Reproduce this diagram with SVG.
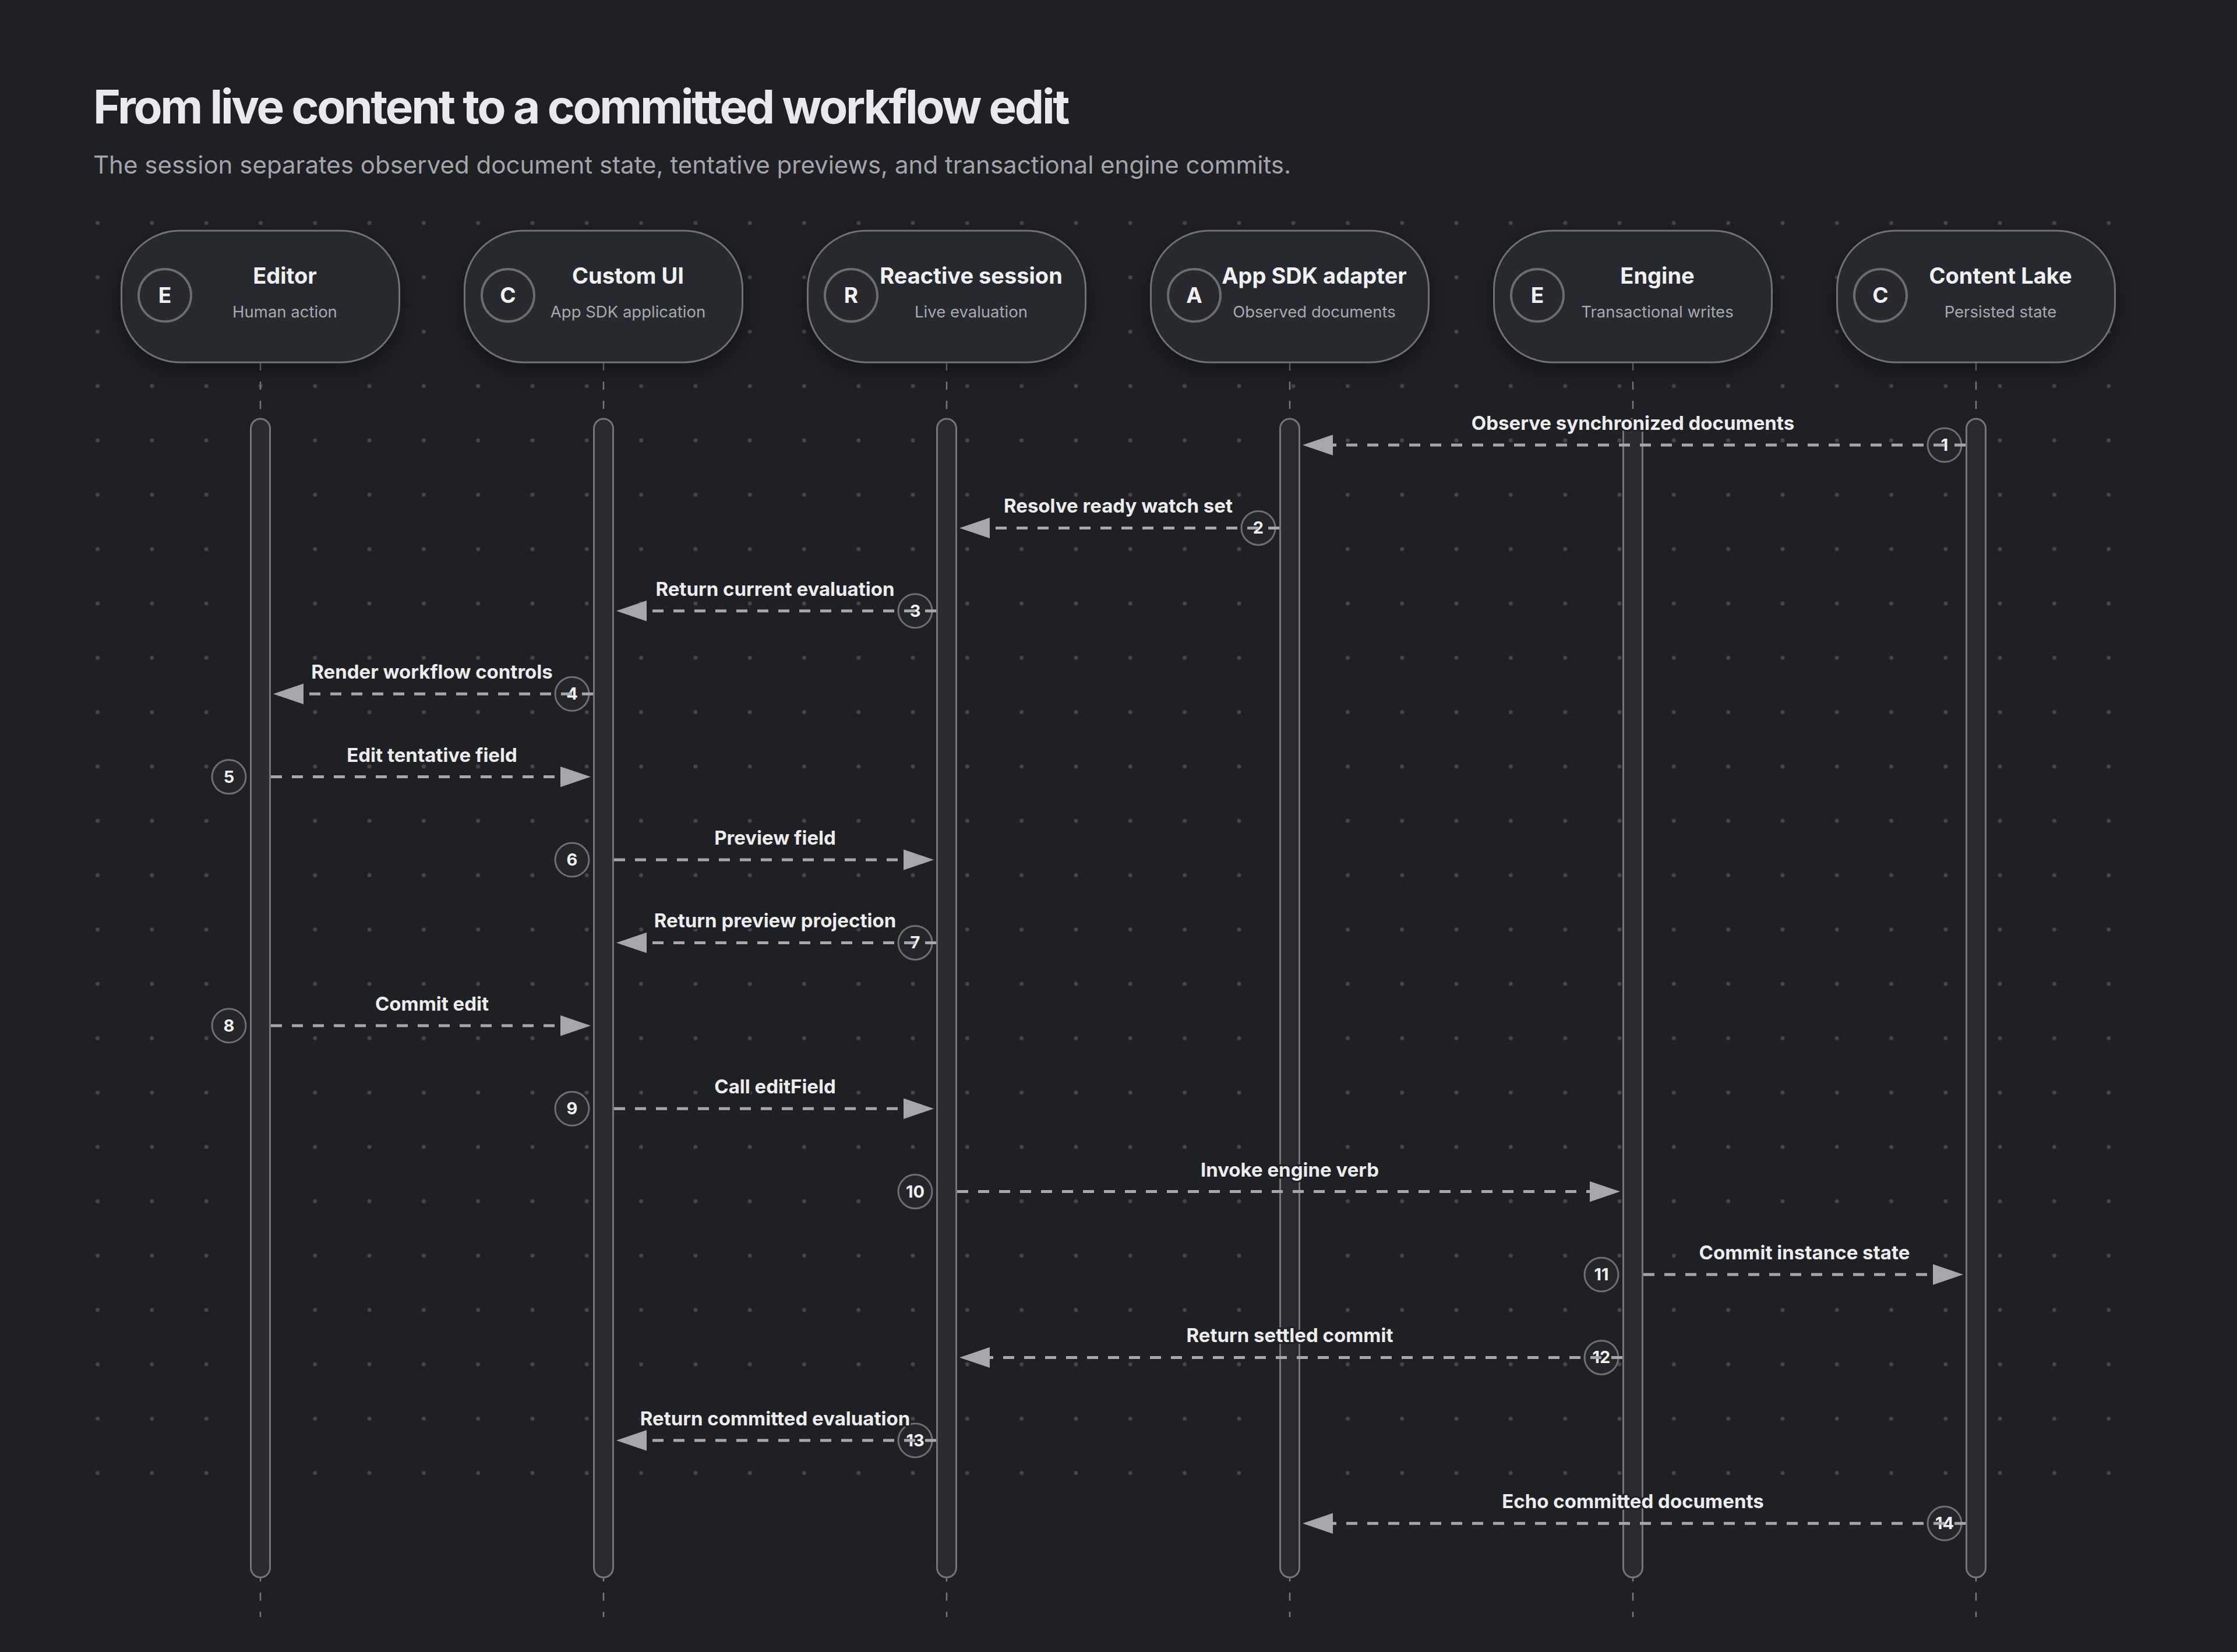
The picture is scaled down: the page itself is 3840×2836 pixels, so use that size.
<svg xmlns="http://www.w3.org/2000/svg" width="3840" height="2836" viewBox="0 0 3840 2836">
  <style>
    .bg { fill: #1f2024; }
    .title { font-family: Inter, "Noto Sans", "Liberation Sans", sans-serif; font-weight: 700; font-size: 80px; fill: #e9e9ec; letter-spacing: -3.3px; }
    .subtitle { font-family: Inter, "Noto Sans", "Liberation Sans", sans-serif; font-weight: 400; font-size: 42px; fill: #a4a5ab; }
    .pill { fill: #28292e; stroke: #6f7076; stroke-width: 3; }
    .icon { fill: #28292e; stroke: #6b6c72; stroke-width: 4; }
    .iconLetter { font-family: Inter, "Noto Sans", "Liberation Sans", sans-serif; font-weight: 700; font-size: 37px; fill: #f0f0f2; text-anchor: middle; }
    .nodeTitle { font-family: Inter, "Noto Sans", "Liberation Sans", sans-serif; font-weight: 700; font-size: 38px; fill: #f0f0f2; text-anchor: middle; }
    .nodeSub { font-family: Inter, "Noto Sans", "Liberation Sans", sans-serif; font-weight: 400; font-size: 27.5px; fill: #a8a9ae; text-anchor: middle; }
    .lifeline { stroke: #77787e; stroke-width: 2.5; stroke-dasharray: 14 19; fill: none; }
    .bar { fill: #2a2b30; stroke: #74757b; stroke-width: 3; }
    .msg { stroke: #a6a7ac; stroke-width: 5; stroke-dasharray: 19 17; fill: none; }
    .badge { fill: #25262a; stroke: #6e6f75; stroke-width: 3; }
    .badgeNum { font-family: Inter, "Noto Sans", "Liberation Sans", sans-serif; font-weight: 700; font-size: 29px; fill: #f0f0f2; text-anchor: middle; }
    .label { font-family: Inter, "Noto Sans", "Liberation Sans", sans-serif; font-weight: 700; font-size: 33px; fill: #ececee; text-anchor: middle; stroke: #1f2024; stroke-width: 6px; paint-order: stroke; stroke-linejoin: round; }
  </style>
  <defs>
    <pattern id="dots" patternUnits="userSpaceOnUse" x="120.95" y="336.15" width="93.3" height="93.3">
      <circle cx="46.65" cy="46.65" r="3.5" fill="#45464b"/>
    </pattern>
    <filter id="shadow" x="-30%" y="-40%" width="160%" height="190%">
      <feDropShadow dx="0" dy="14" stdDeviation="18" flood-color="#000000" flood-opacity="0.4"/>
    </filter>
    <marker id="arrow" markerUnits="userSpaceOnUse" markerWidth="52" markerHeight="36" refX="0" refY="17" orient="auto" viewBox="0 0 50 34">
      <path d="M0,0 L50,17 L0,34 Z" fill="#a6a7ac"/>
    </marker>
  </defs>

  <rect class="bg" x="0" y="0" width="3840" height="2836"/>
  <rect x="121" y="336" width="3545.4" height="2239.2" fill="url(#dots)"/>

  <text class="title" x="160" y="212">From live content to a committed workflow edit</text>
  <text class="subtitle" x="160" y="298">The session separates observed document state, tentative previews, and transactional engine commits.</text>

  <g id="lifelines">
    <line class="lifeline" x1="447" y1="622" x2="447" y2="2776"/>
    <line class="lifeline" x1="1036" y1="622" x2="1036" y2="2776"/>
    <line class="lifeline" x1="1625" y1="622" x2="1625" y2="2776"/>
    <line class="lifeline" x1="2214" y1="622" x2="2214" y2="2776"/>
    <line class="lifeline" x1="2803" y1="622" x2="2803" y2="2776"/>
    <line class="lifeline" x1="3392" y1="622" x2="3392" y2="2776"/>
    <rect class="bar" x="430.5" y="719" width="33" height="1989" rx="16.5"/>
    <rect class="bar" x="1019.5" y="719" width="33" height="1989" rx="16.5"/>
    <rect class="bar" x="1608.5" y="719" width="33" height="1989" rx="16.5"/>
    <rect class="bar" x="2197.5" y="719" width="33" height="1989" rx="16.5"/>
    <rect class="bar" x="2786.5" y="719" width="33" height="1989" rx="16.5"/>
    <rect class="bar" x="3375.5" y="719" width="33" height="1989" rx="16.5"/>
  </g>

  <g id="node-editor">
    <rect class="pill" x="208.5" y="396" width="477" height="226" rx="100" filter="url(#shadow)"/>
    <circle class="icon" cx="283" cy="507" r="45"/>
    <text class="iconLetter" x="283" y="520">E</text>
    <text class="nodeTitle" x="489" y="487">Editor</text>
    <text class="nodeSub" x="489" y="545">Human action</text>
  </g>
  <g id="node-custom-ui">
    <rect class="pill" x="797.5" y="396" width="477" height="226" rx="100" filter="url(#shadow)"/>
    <circle class="icon" cx="872" cy="507" r="45"/>
    <text class="iconLetter" x="872" y="520">C</text>
    <text class="nodeTitle" x="1078" y="487">Custom UI</text>
    <text class="nodeSub" x="1078" y="545">App SDK application</text>
  </g>
  <g id="node-reactive-session">
    <rect class="pill" x="1386.5" y="396" width="477" height="226" rx="100" filter="url(#shadow)"/>
    <circle class="icon" cx="1461" cy="507" r="45"/>
    <text class="iconLetter" x="1461" y="520">R</text>
    <text class="nodeTitle" x="1667" y="487">Reactive session</text>
    <text class="nodeSub" x="1667" y="545">Live evaluation</text>
  </g>
  <g id="node-app-sdk-adapter">
    <rect class="pill" x="1975.5" y="396" width="477" height="226" rx="100" filter="url(#shadow)"/>
    <circle class="icon" cx="2050" cy="507" r="45"/>
    <text class="iconLetter" x="2050" y="520">A</text>
    <text class="nodeTitle" x="2256" y="487">App SDK adapter</text>
    <text class="nodeSub" x="2256" y="545">Observed documents</text>
  </g>
  <g id="node-engine">
    <rect class="pill" x="2564.5" y="396" width="477" height="226" rx="100" filter="url(#shadow)"/>
    <circle class="icon" cx="2639" cy="507" r="45"/>
    <text class="iconLetter" x="2639" y="520">E</text>
    <text class="nodeTitle" x="2845" y="487">Engine</text>
    <text class="nodeSub" x="2845" y="545">Transactional writes</text>
  </g>
  <g id="node-content-lake">
    <rect class="pill" x="3153.5" y="396" width="477" height="226" rx="100" filter="url(#shadow)"/>
    <circle class="icon" cx="3228" cy="507" r="45"/>
    <text class="iconLetter" x="3228" y="520">C</text>
    <text class="nodeTitle" x="3434" y="487">Content Lake</text>
    <text class="nodeSub" x="3434" y="545">Persisted state</text>
  </g>

  <g id="connectors">
    <!-- 1: Content Lake -> App SDK adapter -->
    <circle class="badge" cx="3338" cy="764" r="29"/>
    <text class="badgeNum" x="3338" y="774">1</text>
    <line class="msg" x1="3374" y1="764" x2="2288" y2="764" marker-end="url(#arrow)"/>
    <text class="label" x="2803" y="738">Observe synchronized documents</text>

    <!-- 2: App SDK adapter -> Reactive session -->
    <circle class="badge" cx="2160" cy="906.4" r="29"/>
    <text class="badgeNum" x="2160" y="916.4">2</text>
    <line class="msg" x1="2196" y1="906.4" x2="1699" y2="906.4" marker-end="url(#arrow)"/>
    <text class="label" x="1919.5" y="880.4">Resolve ready watch set</text>

    <!-- 3: Reactive session -> Custom UI -->
    <circle class="badge" cx="1571" cy="1048.8" r="29"/>
    <text class="badgeNum" x="1571" y="1058.8">3</text>
    <line class="msg" x1="1607" y1="1048.8" x2="1110" y2="1048.8" marker-end="url(#arrow)"/>
    <text class="label" x="1330.5" y="1022.8">Return current evaluation</text>

    <!-- 4: Custom UI -> Editor -->
    <circle class="badge" cx="982" cy="1191.2" r="29"/>
    <text class="badgeNum" x="982" y="1201.2">4</text>
    <line class="msg" x1="1018" y1="1191.2" x2="521" y2="1191.2" marker-end="url(#arrow)"/>
    <text class="label" x="741.5" y="1165.2">Render workflow controls</text>

    <!-- 5: Editor -> Custom UI -->
    <circle class="badge" cx="393" cy="1333.6" r="29"/>
    <text class="badgeNum" x="393" y="1343.6">5</text>
    <line class="msg" x1="465" y1="1333.6" x2="962" y2="1333.6" marker-end="url(#arrow)"/>
    <text class="label" x="741.5" y="1307.6">Edit tentative field</text>

    <!-- 6: Custom UI -> Reactive session -->
    <circle class="badge" cx="982" cy="1476" r="29"/>
    <text class="badgeNum" x="982" y="1486">6</text>
    <line class="msg" x1="1054" y1="1476" x2="1551" y2="1476" marker-end="url(#arrow)"/>
    <text class="label" x="1330.5" y="1450">Preview field</text>

    <!-- 7: Reactive session -> Custom UI -->
    <circle class="badge" cx="1571" cy="1618.4" r="29"/>
    <text class="badgeNum" x="1571" y="1628.4">7</text>
    <line class="msg" x1="1607" y1="1618.4" x2="1110" y2="1618.4" marker-end="url(#arrow)"/>
    <text class="label" x="1330.5" y="1592.4">Return preview projection</text>

    <!-- 8: Editor -> Custom UI -->
    <circle class="badge" cx="393" cy="1760.8" r="29"/>
    <text class="badgeNum" x="393" y="1770.8">8</text>
    <line class="msg" x1="465" y1="1760.8" x2="962" y2="1760.8" marker-end="url(#arrow)"/>
    <text class="label" x="741.5" y="1734.8">Commit edit</text>

    <!-- 9: Custom UI -> Reactive session -->
    <circle class="badge" cx="982" cy="1903.2" r="29"/>
    <text class="badgeNum" x="982" y="1913.2">9</text>
    <line class="msg" x1="1054" y1="1903.2" x2="1551" y2="1903.2" marker-end="url(#arrow)"/>
    <text class="label" x="1330.5" y="1877.2">Call editField</text>

    <!-- 10: Reactive session -> Engine -->
    <circle class="badge" cx="1571" cy="2045.6" r="29"/>
    <text class="badgeNum" x="1571" y="2055.6">10</text>
    <line class="msg" x1="1643" y1="2045.6" x2="2729" y2="2045.6" marker-end="url(#arrow)"/>
    <text class="label" x="2214" y="2019.6">Invoke engine verb</text>

    <!-- 11: Engine -> Content Lake -->
    <circle class="badge" cx="2749" cy="2188" r="29"/>
    <text class="badgeNum" x="2749" y="2198">11</text>
    <line class="msg" x1="2821" y1="2188" x2="3318" y2="2188" marker-end="url(#arrow)"/>
    <text class="label" x="3097.5" y="2162">Commit instance state</text>

    <!-- 12: Engine -> Reactive session -->
    <circle class="badge" cx="2749" cy="2330.4" r="29"/>
    <text class="badgeNum" x="2749" y="2340.4">12</text>
    <line class="msg" x1="2785" y1="2330.4" x2="1699" y2="2330.4" marker-end="url(#arrow)"/>
    <text class="label" x="2214" y="2304.4">Return settled commit</text>

    <!-- 13: Reactive session -> Custom UI -->
    <circle class="badge" cx="1571" cy="2472.8" r="29"/>
    <text class="badgeNum" x="1571" y="2482.8">13</text>
    <line class="msg" x1="1607" y1="2472.8" x2="1110" y2="2472.8" marker-end="url(#arrow)"/>
    <text class="label" x="1330.5" y="2446.8">Return committed evaluation</text>

    <!-- 14: Content Lake -> App SDK adapter -->
    <circle class="badge" cx="3338" cy="2615.2" r="29"/>
    <text class="badgeNum" x="3338" y="2625.2">14</text>
    <line class="msg" x1="3374" y1="2615.2" x2="2288" y2="2615.2" marker-end="url(#arrow)"/>
    <text class="label" x="2803" y="2589.2">Echo committed documents</text>
  </g>
</svg>
